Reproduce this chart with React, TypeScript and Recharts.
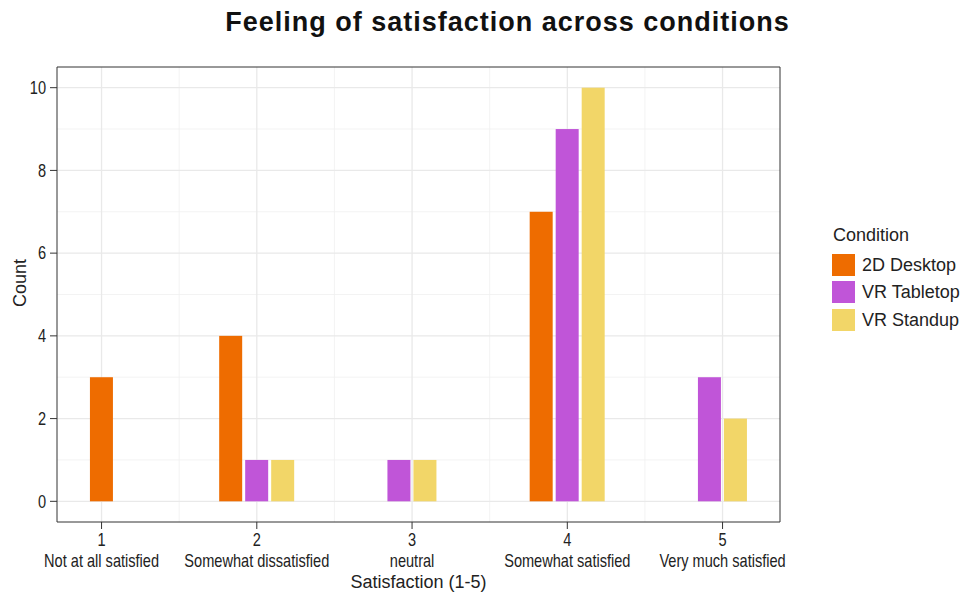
import React from 'react';
import { BarChart, Bar, XAxis, YAxis, CartesianGrid, ReferenceArea } from 'recharts';

// ---- data ----
const xValues = [1, 2, 3, 4, 5];
const xLabels = [
  'Not at all satisfied',
  'Somewhat dissatisfied',
  'neutral',
  'Somewhat satisfied',
  'Very much satisfied',
];
const desktop2D: (number | null)[] = [3, 4, null, 7, null];
const vrTabletop: (number | null)[] = [null, 1, 1, 9, 3];
const vrStandup: (number | null)[] = [null, 1, 1, 10, 2];

const seriesKeys = ['desktop', 'tabletop', 'standup'];
const seriesNames = ['2D Desktop', 'VR Tabletop', 'VR Standup'];
const seriesColors = ['#EE6C00', '#C055D8', '#F2D668'];

const yTicks = [0, 2, 4, 6, 8, 10];
const yMinorTicks = [1, 3, 5, 7, 9];
const xMinorTicks = [1.5, 2.5, 3.5, 4.5];

const X_DOMAIN: [number, number] = [0.713, 5.37];
const Y_DOMAIN: [number, number] = [-0.5, 10.5];

const data = xValues.map((x, i) => ({
  x,
  desktop: desktop2D[i],
  tabletop: vrTabletop[i],
  standup: vrStandup[i],
}));

// ---- styling ----
const SANS = '"Liberation Sans", Arial, sans-serif';
const TEXT = '#222';
const BAR_SIZE = 23;
const BAR_GAP = 3;
const CONDENSE = 0.81;

// dodge2(preserve = "single"): centre the bars that exist in each category
const makeShape = (seriesIndex: number) => (props: any) => {
  const { x, y, width, height, payload, fill } = props;
  if (!payload || payload[seriesKeys[seriesIndex]] == null || height == null) return <g />;
  const present = seriesKeys
    .map((k, i) => (payload[k] != null ? i : -1))
    .filter((i) => i >= 0);
  const n = present.length;
  const j = present.indexOf(seriesIndex);
  const pitch = width + BAR_GAP;
  const center = x + width / 2 + (1 - seriesIndex) * pitch;
  const nx = center - (n * width + (n - 1) * BAR_GAP) / 2 + j * pitch;
  return <rect x={nx} y={y} width={width} height={height} fill={fill} />;
};

const XTick = (props: any) => {
  const { x, y, payload } = props;
  const i = xValues.indexOf(payload.value);
  return (
    <g transform={`translate(${x},${y}) scale(${CONDENSE},1)`}>
      <text x={0} y={0} textAnchor="middle" fontFamily={SANS} fontSize={18} fill={TEXT}>
        <tspan x={0} dy={15}>{payload.value}</tspan>
        <tspan x={0} dy={21}>{xLabels[i]}</tspan>
      </text>
    </g>
  );
};

const YTick = (props: any) => {
  const { x, y, payload } = props;
  return (
    <g transform={`translate(${x},${y}) scale(${CONDENSE},1)`}>
      <text x={0} y={0} dy={6.3} textAnchor="end" fontFamily={SANS} fontSize={18} fill={TEXT}>
        {payload.value}
      </text>
    </g>
  );
};

export default function App() {
  return (
    <div style={{ position: 'absolute', left: 0, top: 0, width: 969, height: 594, background: '#fff' }}>
      <div
        style={{
          position: 'absolute',
          left: 0,
          top: 6,
          width: 1015,
          textAlign: 'center',
          fontFamily: SANS,
          fontWeight: 'bold',
          fontSize: 27,
          letterSpacing: 1,
          color: '#111',
          lineHeight: '32px',
        }}
      >
        Feeling of satisfaction across conditions
      </div>

      <BarChart
        width={969}
        height={594}
        data={data}
        margin={{ top: 67, right: 189, bottom: 0, left: 0 }}
        barGap={BAR_GAP}
        barSize={BAR_SIZE}
      >
        <CartesianGrid
          horizontalValues={yMinorTicks}
          verticalValues={xMinorTicks}
          stroke="#f0f0f0"
          strokeWidth={0.8}
        />
        <CartesianGrid
          horizontalValues={yTicks}
          verticalValues={xValues}
          stroke="#e9e9e9"
          strokeWidth={1.3}
        />
        <XAxis
          dataKey="x"
          type="number"
          domain={X_DOMAIN}
          allowDataOverflow
          ticks={xValues}
          height={72}
          axisLine={false}
          tickLine={{ stroke: '#333' }}
          tickSize={7}
          tickMargin={2}
          tick={<XTick />}
          interval={0}
          label={{
            content: (p: any) => {
              const vb = p.viewBox;
              return (
                <text
                  x={vb.x + vb.width / 2}
                  y={588}
                  textAnchor="middle"
                  fontFamily={SANS}
                  fontSize={18}
                  fill={TEXT}
                >
                  Satisfaction (1-5)
                </text>
              );
            },
          }}
        />
        <YAxis
          type="number"
          domain={Y_DOMAIN}
          allowDataOverflow
          ticks={yTicks}
          width={57}
          axisLine={false}
          tickLine={{ stroke: '#333' }}
          tickSize={7}
          tickMargin={4}
          tick={<YTick />}
          interval={0}
          label={{
            content: () => (
              <text
                x={26}
                y={283}
                transform="rotate(-90 26 283)"
                textAnchor="middle"
                fontFamily={SANS}
                fontSize={18}
                fill={TEXT}
              >
                Count
              </text>
            ),
          }}
        />
        {seriesKeys.map((k, i) => (
          <Bar
            key={k}
            dataKey={k}
            name={seriesNames[i]}
            fill={seriesColors[i]}
            isAnimationActive={false}
            shape={makeShape(i)}
          />
        ))}
        <ReferenceArea
          x1={X_DOMAIN[0]}
          x2={X_DOMAIN[1]}
          y1={Y_DOMAIN[0]}
          y2={Y_DOMAIN[1]}
          fill="none"
          stroke="#333"
          strokeWidth={1}
        />
      </BarChart>

      <div style={{ position: 'absolute', left: 832, top: 225, fontFamily: SANS, fontSize: 18, color: TEXT }}>
        <div style={{ lineHeight: '20px', marginBottom: 6, marginLeft: 1 }}>Condition</div>
        {seriesNames.map((name, i) => (
          <div key={name} style={{ display: 'flex', alignItems: 'center', height: 27.5 }}>
            <div style={{ width: 23, height: 22, background: seriesColors[i], marginRight: 7 }} />
            <span style={{ lineHeight: '22px' }}>{name}</span>
          </div>
        ))}
      </div>
    </div>
  );
}
